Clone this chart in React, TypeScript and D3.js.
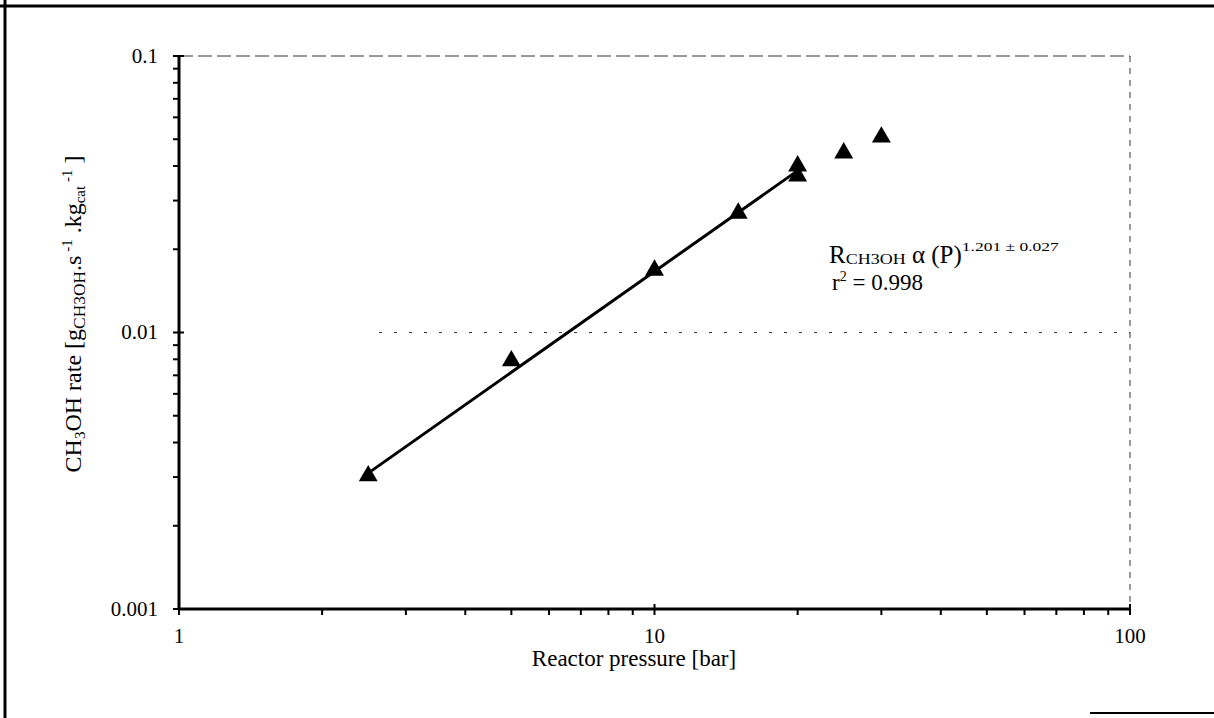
import { useMemo } from 'react';
import * as d3 from 'd3';

// reactor pressure [bar] and measured CH3OH rate [g/(s.kg cat)]
const pressures = [2.5, 5, 10, 15, 20, 20, 25, 30];
const rates = [0.00303, 0.0079, 0.0168, 0.027, 0.040, 0.0368, 0.0446, 0.0509];

// fitted power-law line, end points
const fitP = [2.5, 20];
const fitR = [0.0031, 0.0385];

const xTicks = [1, 10, 100];
const xTickLabels = ['1', '10', '100'];
const yTicks = [0.001, 0.01, 0.1];
const yTickLabels = ['0.001', '0.01', '0.1'];
const gridY = [0.01, 0.1];

const FONT = '"Liberation Serif", "Times New Roman", serif';

function minorTicks(lo: number, hi: number) {
  const out: number[] = [];
  for (let d = lo; d < hi; d *= 10) {
    for (let k = 2; k <= 9; k++) out.push(d * k);
  }
  return out;
}

export default function App() {
  const left = 179, right = 1130, top = 56, bottom = 609;

  const x = useMemo(() => d3.scaleLog().domain([1, 100]).range([left, right]), []);
  const y = useMemo(() => d3.scaleLog().domain([0.001, 0.1]).range([bottom, top]), []);

  const line = d3.line<number>()
    .x(d => x(d))
    .y((d, i) => y(fitR[i]));

  const tri = d3.symbol().type(d3.symbolTriangle).size(155)();

  return (
    <svg width={1214} height={718} style={{ position: 'fixed', left: 0, top: 0, background: '#fff' }}
      fontFamily={FONT}>
      {/* outer frame */}
      <line x1={5} y1={0} x2={5} y2={718} stroke="#000" strokeWidth={3} />
      <line x1={0} y1={6} x2={1214} y2={6} stroke="#000" strokeWidth={3} />
      <line x1={1090} y1={713} x2={1214} y2={713} stroke="#000" strokeWidth={2} />

      {/* grid */}
      <line x1={left} x2={right} y1={y(gridY[1])} y2={y(gridY[1])}
        stroke="#333" strokeWidth={1} strokeDasharray="14 5" />
      <line x1={left + 200} x2={right} y1={y(gridY[0])} y2={y(gridY[0])}
        stroke="#333" strokeWidth={1} strokeDasharray="3 12" />
      <line x1={right} x2={right} y1={top} y2={bottom} stroke="#333" strokeWidth={1} strokeDasharray="6 6" />

      {/* axes */}
      <line x1={left} x2={right} y1={bottom} y2={bottom} stroke="#000" strokeWidth={3} />
      <line x1={left} x2={left} y1={top} y2={bottom} stroke="#000" strokeWidth={3} />

      {minorTicks(1, 100).map(v => (
        <line key={'mx' + v} x1={x(v)} x2={x(v)} y1={bottom} y2={bottom + 6} stroke="#000" strokeWidth={2} />
      ))}
      {xTicks.map(v => (
        <line key={'Mx' + v} x1={x(v)} x2={x(v)} y1={bottom - 5} y2={bottom + 6} stroke="#000" strokeWidth={2} />
      ))}
      {minorTicks(0.001, 0.1).map(v => (
        <line key={'my' + v} x1={left - 6} x2={left} y1={y(v)} y2={y(v)} stroke="#000" strokeWidth={2} />
      ))}
      {yTicks.map(v => (
        <line key={'My' + v} x1={left - 6} x2={left + 5} y1={y(v)} y2={y(v)} stroke="#000" strokeWidth={2} />
      ))}

      {xTicks.map((v, i) => (
        <text key={'lx' + v} x={x(v)} y={643} fontSize={21} textAnchor="middle">{xTickLabels[i]}</text>
      ))}
      {yTicks.map((v, i) => (
        <text key={'ly' + v} x={158} y={y(v)} dy="0.33em" fontSize={21} textAnchor="end">{yTickLabels[i]}</text>
      ))}

      {/* axis titles */}
      <text x={634} y={666} fontSize={23} textAnchor="middle">Reactor pressure [bar]</text>
      <text transform="translate(81,314) rotate(-90)" fontSize={24} textAnchor="middle">
        CH<tspan fontSize={15} dy={4}>3</tspan><tspan dy={-4}>OH rate [g</tspan>
        <tspan fontSize={16} dy={4} textLength={58} lengthAdjust="spacingAndGlyphs">CH3OH</tspan>
        <tspan dy={-4}>.s</tspan>
        <tspan fontSize={15} dy={-9}> -1</tspan><tspan dy={9}> .kg</tspan>
        <tspan fontSize={15} dy={4}>cat</tspan><tspan fontSize={15} dy={-13}> -1</tspan>
        <tspan dy={9}> ]</tspan>
      </text>

      {/* fitted line */}
      <path d={line(fitP) ?? ''} fill="none" stroke="#000" strokeWidth={3} />

      {/* data points */}
      {pressures.map((p, i) => (
        <path key={i} d={tri ?? ''} transform={`translate(${x(p)},${y(rates[i])})`} fill="#000" />
      ))}

      {/* annotation */}
      <text x={829} y={263} fontSize={25}>
        R<tspan fontSize={15} dy={1} textLength={60} lengthAdjust="spacingAndGlyphs">CH3OH</tspan>
        <tspan dy={-1}> α (P)</tspan>
        <tspan fontSize={13} dy={-12} textLength={97} lengthAdjust="spacingAndGlyphs">1.201 ± 0.027</tspan>
      </text>
      <text x={832} y={290} fontSize={23}>
        r<tspan fontSize={14} dy={-9}>2</tspan><tspan dy={9}> = 0.998</tspan>
      </text>
    </svg>
  );
}
